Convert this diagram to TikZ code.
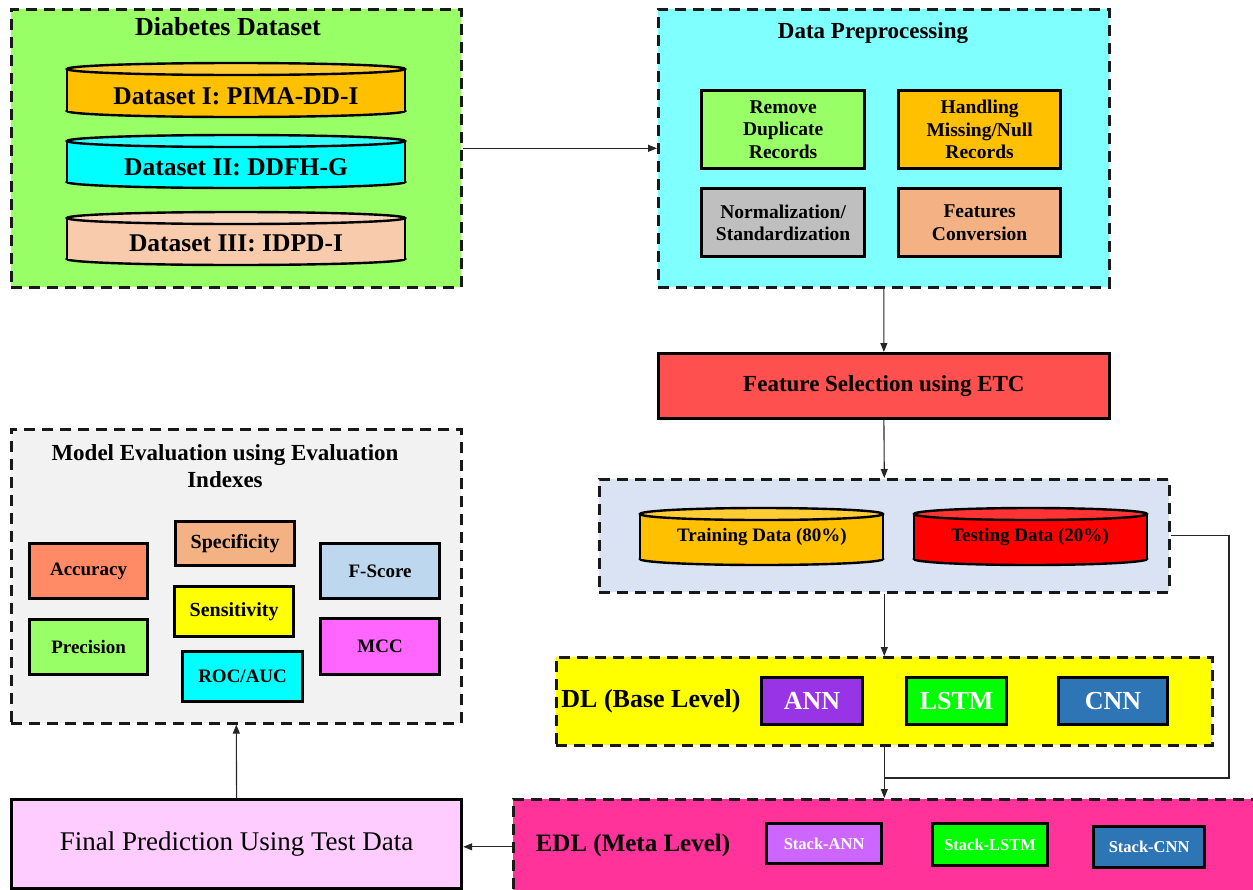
\documentclass[tikz,border=0pt]{standalone}
\usepackage{fontspec}
\setmainfont{Liberation Serif}
\usetikzlibrary{arrows.meta}

\definecolor{dsgreen}{HTML}{99FF66}
\definecolor{ppcyan}{HTML}{80FFFF}
\definecolor{amber}{HTML}{FFC000}
\definecolor{aqua}{HTML}{00FFFF}
\definecolor{peach}{HTML}{F8CBAD}
\definecolor{midgray}{HTML}{BFBFBF}
\definecolor{tan}{HTML}{F4B183}
\definecolor{fsred}{HTML}{FF5050}
\definecolor{paleblue}{HTML}{DAE3F3}
\definecolor{purered}{HTML}{FF0000}
\definecolor{lemon}{HTML}{FFFF00}
\definecolor{violet}{HTML}{9933E6}
\definecolor{lime}{HTML}{00FF00}
\definecolor{steel}{HTML}{2E75B6}
\definecolor{hotpink}{HTML}{FF3399}
\definecolor{lilac}{HTML}{CC66FF}
\definecolor{blush}{HTML}{FFCCFF}
\definecolor{offwhite}{HTML}{F2F2F2}
\definecolor{salmon}{HTML}{FF8A65}
\definecolor{skyblue}{HTML}{BDD7EE}
\definecolor{magenta2}{HTML}{FF66FF}

\newcommand\fs[1]{\fontsize{#1}{1.15\dimexpr#1pt\relax}\selectfont}

% cylinder: x-left, x-right, y of top ellipse, y of bottom ellipse, fill
\newcommand\drawcyl[5]{%
  \pgfmathsetmacro\cylcx{(#1+#2)/2}%
  \pgfmathsetmacro\cylrx{(#2-#1)/2}%
  \filldraw[fill=#5, draw=black, line width=2.4pt] (\cylcx,#4) ellipse[x radius=\cylrx pt, y radius=6pt];
  \fill[#5] (#1,#3) rectangle (#2,#4);
  \draw[line width=2.4pt] (#1,#3) -- (#1,#4) (#2,#3) -- (#2,#4);
  \filldraw[fill=#5!80!white, draw=black, line width=2.4pt] (\cylcx,#3) ellipse[x radius=\cylrx pt, y radius=6pt];
}

\tikzset{
  cont/.style={draw=black!90, line width=2.6pt, dash pattern=on 11pt off 7pt, inner sep=0pt, anchor=north west},
  ibox/.style={draw=black, line width=3.2pt, inner sep=0pt, anchor=north west, align=center},
  title/.style={font=\bfseries\fs{21}, inner sep=0pt, align=center},
  conn/.style={draw=black!85, line width=1.1pt},
  arr/.style={conn, -{Triangle[length=9pt,width=7pt]}},
}

\begin{document}
\begin{tikzpicture}[x=1pt, y=-1pt]
\useasboundingbox (0,0) rectangle (1253,889);

% ---- Diabetes dataset
\node[cont, fill=dsgreen, minimum width=450pt, minimum height=278pt] (ds) at (10,8) {};
\node[title, font=\bfseries\fs{26}] (dsT) at (228,27) {Diabetes Dataset};
\drawcyl{67}{405}{69}{111}{amber}
\drawcyl{67}{405}{141}{182}{aqua}
\drawcyl{67}{405}{218}{259}{peach}
\node[font=\bfseries\fs{25.5}] (d1) at (236,96) {Dataset I: PIMA-DD-I};
\node[font=\bfseries\fs{25.5}] (d2) at (236,167) {Dataset II: DDFH-G};
\node[font=\bfseries\fs{25.5}] (d3) at (236,243) {Dataset III: IDPD-I};

% ---- Data preprocessing
\node[cont, fill=ppcyan, minimum width=451pt, minimum height=278pt] (pp) at (657,8) {};
\node[title, font=\bfseries\fs{23}] (ppT) at (873,33) {Data Preprocessing};
\node[ibox, fill=dsgreen, minimum width=163pt, minimum height=78pt, font=\bfseries\fs{19.5}] (rd) at (700,89) {Remove\\Duplicate\\Records};
\node[ibox, fill=amber, minimum width=162pt, minimum height=78pt, font=\bfseries\fs{19.5}] (hm) at (897,89) {Handling\\Missing/Null\\Records};
\node[ibox, fill=midgray, minimum width=163pt, minimum height=68pt, font=\bfseries\fs{19.5}] (ns) at (700,187) {Normalization/\\Standardization};
\node[ibox, fill=tan, minimum width=162pt, minimum height=68pt, font=\bfseries\fs{19.5}] (fc) at (897,187) {Features\\Conversion};

% ---- Feature selection
\node[ibox, line width=2.8pt, fill=fsred, minimum width=451pt, minimum height=65pt, font=\bfseries\fs{23}] (fs) at (657,352) {Feature Selection using ETC};

% ---- Train / test split
\node[cont, fill=paleblue, minimum width=570pt, minimum height=113pt] (tt) at (598,478) {};
\drawcyl{640}{883}{514}{559}{amber}
\drawcyl{914}{1147}{514}{559}{purered}
\node[font=\bfseries\fs{19}] (trn) at (762,537) {Training Data (80\%)};
\node[font=\bfseries\fs{19}] (tst) at (1030,537) {Testing Data (20\%)};

% ---- Base level
\node[cont, fill=lemon, minimum width=656pt, minimum height=88pt] (dl) at (555,656) {};
\node[title, font=\bfseries\fs{26}] (dlT) at (651,701) {DL (Base Level)};
\node[ibox, fill=violet, text=white, minimum width=101pt, minimum height=47pt, font=\bfseries\fs{26}] (ann) at (760,676) {ANN};
\node[ibox, fill=lime, text=white, minimum width=100pt, minimum height=47pt, font=\bfseries\fs{26}] (lstm) at (905,676) {LSTM};
\node[ibox, fill=steel, text=white, minimum width=109pt, minimum height=47pt, font=\bfseries\fs{26}] (cnn) at (1057,676) {CNN};

% ---- Meta level
\node[cont, fill=hotpink, minimum width=741pt, minimum height=95pt] (edl) at (512,798) {};
\node[title, font=\bfseries\fs{25}] (edlT) at (633,845) {EDL (Meta Level)};
\node[ibox, fill=lilac, text=white, minimum width=115pt, minimum height=40pt, font=\bfseries\fs{16.5}] (sann) at (765,822) {Stack-ANN};
\node[ibox, fill=lime, text=white, minimum width=115pt, minimum height=42pt, font=\bfseries\fs{16.5}] (slstm) at (931,822) {Stack-LSTM};
\node[ibox, fill=steel, text=white, minimum width=111pt, minimum height=41pt, font=\bfseries\fs{16.5}] (scnn) at (1092,825) {Stack-CNN};

% ---- Final prediction
\node[ibox, fill=blush, minimum width=450pt, minimum height=89pt, font=\fs{27}] (fp) at (10,798) {Final Prediction Using Test Data};

% ---- Evaluation
\node[cont, fill=offwhite, minimum width=450pt, minimum height=294pt] (ev) at (10,428) {};
\node[title, font=\bfseries\fs{23}] (evT) at (225,466) {Model Evaluation using Evaluation\\Indexes};
\node[ibox, fill=salmon, minimum width=118pt, minimum height=55pt, font=\bfseries\fs{19}] (acc) at (28,542) {Accuracy};
\node[ibox, fill=dsgreen, minimum width=118pt, minimum height=55pt, font=\bfseries\fs{19}] (pre) at (28,618) {Precision};
\node[ibox, fill=tan, minimum width=119pt, minimum height=44pt, font=\bfseries\fs{20}] (spe) at (174,520) {Specificity};
\node[ibox, fill=lemon, minimum width=119pt, minimum height=50pt, font=\bfseries\fs{20}] (sen) at (173,585) {Sensitivity};
\node[ibox, fill=aqua, minimum width=120pt, minimum height=50pt, font=\bfseries\fs{19}] (roc) at (181,650) {ROC/AUC};
\node[ibox, fill=skyblue, minimum width=119pt, minimum height=55pt, font=\bfseries\fs{19}] (fsc) at (319,542) {F-Score};
\node[ibox, fill=magenta2, minimum width=119pt, minimum height=56pt, font=\bfseries\fs{19}] (mcc) at (319,617) {MCC};

% ---- connectors
\draw[arr] (ds.east) -- (pp.west);
\draw[arr] (pp.south) -- (fs.north);
\draw[arr] (fs.south) -- (tt.north);
\draw[arr] (tt.south) -- (dl.north);
\coordinate (join) at (dl.south |- 0,778);
\coordinate (rt) at (1229,778);
\draw[conn] (tt.east) -| (rt) -- (join);
\draw[arr] (dl.south) -- (dl.south |- edl.north);
\draw[arr] (edl.west) -- (edl.west -| fp.east);
\draw[arr] (fp.north) -- (ev.south);
\end{tikzpicture}
\end{document}
